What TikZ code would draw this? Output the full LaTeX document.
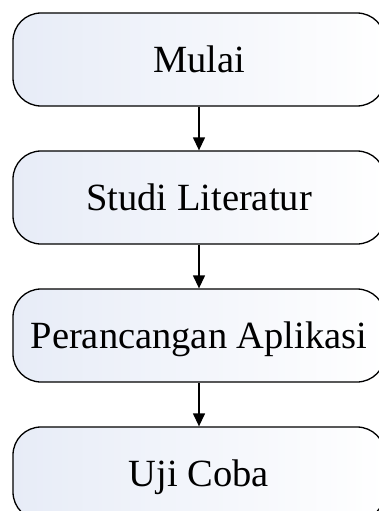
\documentclass[tikz,border=0pt]{standalone}
\usepackage{fontspec}
\setmainfont{Liberation Serif}
\usetikzlibrary{arrows.meta}
\definecolor{boxL}{RGB}{231,236,247}
\definecolor{boxR}{RGB}{255,255,255}
\tikzset{
  stepbox/.style={draw=black, line width=1.3pt, rounded corners=28pt,
    minimum width=372pt, minimum height=93pt, inner sep=0pt,
    left color=boxL, right color=boxR,
    font=\fontsize{38.5pt}{42pt}\selectfont, text height=25.5pt, text depth=0pt},
  flow/.style={line width=1.3pt, -{Triangle[length=13pt,width=12pt]}}
}
\begin{document}
\begin{tikzpicture}[x=1pt,y=1pt]
\useasboundingbox (0,0) rectangle (379,-511);
\node[stepbox] (a) at (199,-59.5) {Mulai};
\node[stepbox] (b) at (199,-197.5) {Studi Literatur};
\node[stepbox] (c) at (199,-335.5) {Perancangan Aplikasi};
\node[stepbox] (d) at (199,-473.5) {Uji Coba};
\draw[flow] (a) -- (b);
\draw[flow] (b) -- (c);
\draw[flow] (c) -- (d);
\end{tikzpicture}
\end{document}
